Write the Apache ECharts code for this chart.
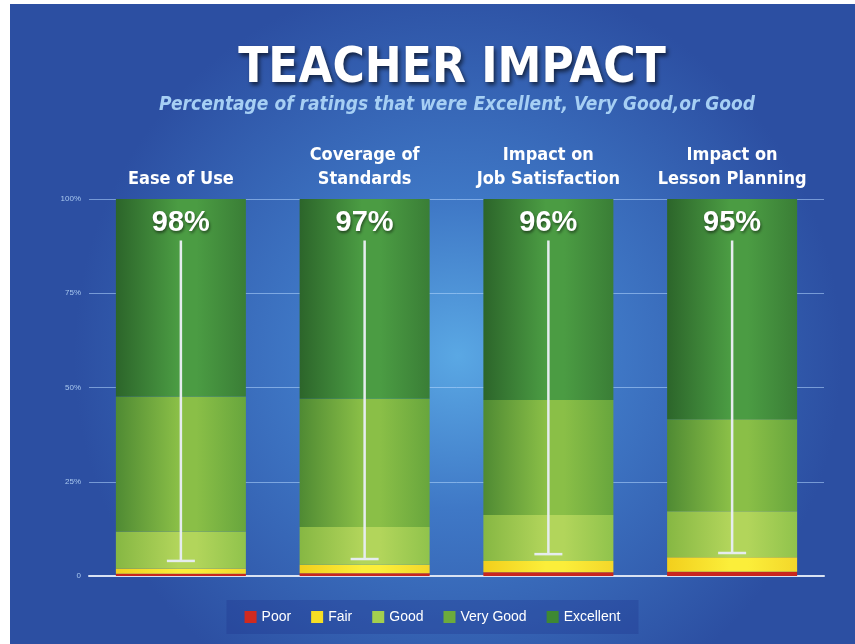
<html>
<meta charset="utf-8">
<head>
<style>
  body { margin: 0; background: #ffffff; }
  #main { position: absolute; left: 10px; top: 4px; width: 845px; height: 640px; }
</style>
</head>
<body>
    <div id="main"></div>
</body>
</html>
<script type="text/javascript" src="https://cdn.jsdelivr.net/npm/echarts@6/dist/echarts.min.js"></script>
<script type="text/javascript">

var categories = ['Ease of Use', 'Coverage of\nStandards', 'Impact on\nJob Satisfaction', 'Impact on\nLesson Planning'];
var poor      = [0.6, 0.7, 1.0, 1.1];
var fair      = [1.4, 2.3, 3.0, 3.9];
var good      = [9.8, 10.0, 12.2, 12.2];
var veryGood  = [35.8, 34.0, 30.5, 24.4];
var excellent = [52.4, 53.0, 53.3, 58.4];
var totals    = ['98%', '97%', '96%', '95%'];
var whiskerHigh = [89, 89, 89, 89];
var whiskerLow  = [4.0, 4.5, 5.8, 6.1];
var yTicks = ['0', '25%', '50%', '75%', '100%'];

var condensed = '"Liberation Sans Narrow", "DejaVu Sans Condensed", sans-serif';

function barFill(left, mid, right) {
    return {
        type: 'linear', x: 0, y: 0, x2: 1, y2: 0,
        colorStops: [
            { offset: 0, color: left },
            { offset: 0.48, color: mid },
            { offset: 0.62, color: mid },
            { offset: 1, color: right }
        ]
    };
}

var myChart = echarts.init(document.getElementById('main'));

var barBase = { type: 'bar', stack: 'r', barWidth: 130, xAxisIndex: 0 };

var option = {
    backgroundColor: {
        type: 'radial', x: 0.53, y: 0.55, r: 0.6,
        colorStops: [
            { offset: 0, color: '#5aa8e4' },
            { offset: 0.4, color: '#3f78c6' },
            { offset: 1, color: '#2c4fa2' }
        ]
    },
    title: [{
        text: 'TEACHER IMPACT',
        left: 437, top: 36, textAlign: 'center',
        textStyle: {
            color: '#ffffff', fontSize: 49, fontWeight: 'bold',
            fontFamily: condensed,
            textShadowColor: 'rgba(0,0,0,0.6)', textShadowBlur: 4, textShadowOffsetX: 2, textShadowOffsetY: 3
        }
    }, {
        text: 'Percentage of ratings that were Excellent, Very Good,or Good',
        left: 442, top: 87, textAlign: 'center',
        textStyle: {
            color: '#a6cff4', fontSize: 19, fontWeight: 'bold', fontStyle: 'italic',
            fontFamily: condensed
        }
    }],
    legend: {
        bottom: 10, left: 'center',
        data: [
            { name: 'Poor', itemStyle: { color: '#d02a1f' } },
            { name: 'Fair', itemStyle: { color: '#f6df24' } },
            { name: 'Good', itemStyle: { color: '#a3cf4e' } },
            { name: 'Very Good', itemStyle: { color: '#6cab3c' } },
            { name: 'Excellent', itemStyle: { color: '#3e8833' } }
        ],
        icon: 'rect', itemWidth: 12, itemHeight: 12, itemGap: 20,
        padding: [10, 18],
        backgroundColor: 'rgba(30,50,140,0.3)',
        textStyle: { color: '#ffffff', fontSize: 14, fontFamily: '"Liberation Sans", sans-serif' }
    },
    grid: { left: 79, right: 31, top: 195, bottom: 68 },
    xAxis: [{
        type: 'category', position: 'top', data: categories,
        axisLine: { show: false }, axisTick: { show: false },
        axisLabel: {
            interval: 0,
            color: '#ffffff', fontSize: 18, fontWeight: 'bold', lineHeight: 24, margin: 8,
            fontFamily: condensed
        }
    }, {
        type: 'category', position: 'bottom', data: categories,
        axisLine: { show: true, lineStyle: { color: '#d9e2f2', width: 2 } },
        axisTick: { show: false }, axisLabel: { show: false }
    }],
    yAxis: {
        type: 'value', min: 0, max: 100, interval: 25,
        axisLine: { show: false }, axisTick: { show: false },
        axisLabel: {
            color: '#a9c8ef', fontSize: 8, margin: 8,
            formatter: function (v) { return yTicks[v / 25]; }
        },
        splitLine: { lineStyle: { color: 'rgba(180,215,255,0.55)', width: 1 } }
    },
    series: [
        Object.assign({ name: 'Poor', data: poor, itemStyle: { color: '#c9261d' } }, barBase),
        Object.assign({ name: 'Fair', data: fair, itemStyle: { color: barFill('#f2cf1c', '#fbee3a', '#f3d72a') } }, barBase),
        Object.assign({ name: 'Good', data: good, itemStyle: { color: barFill('#86b743', '#b2d55b', '#90c34c') } }, barBase),
        Object.assign({ name: 'Very Good', data: veryGood, itemStyle: { color: barFill('#4f8a33', '#8abf47', '#68a63d') } }, barBase),
        Object.assign({
            name: 'Excellent', data: excellent,
            itemStyle: { color: barFill('#2c652a', '#4b9c43', '#3a7e36') },
            label: {
                show: true, position: 'insideTop', distance: 9,
                formatter: function (p) { return totals[p.dataIndex]; },
                color: '#ffffff', fontSize: 29, fontWeight: 'bold',
                fontFamily: '"Liberation Sans", sans-serif',
                textShadowColor: 'rgba(0,0,0,0.5)', textShadowBlur: 3, textShadowOffsetX: 1, textShadowOffsetY: 2
            }
        }, barBase),
        {
            type: 'custom', name: 'whisker', z: 5,
            data: whiskerHigh.map(function (h, i) { return [i, h, whiskerLow[i]]; }),
            renderItem: function (params, api) {
                var top = api.coord([api.value(0), api.value(1)]);
                var bot = api.coord([api.value(0), api.value(2)]);
                var style = { stroke: '#e6ecef', lineWidth: 2.5 };
                return {
                    type: 'group',
                    children: [
                        { type: 'line', shape: { x1: top[0], y1: top[1], x2: bot[0], y2: bot[1] }, style: style },
                        { type: 'line', shape: { x1: bot[0] - 14, y1: bot[1], x2: bot[0] + 14, y2: bot[1] }, style: style }
                    ]
                };
            }
        }
    ]
};
myChart.setOption(option);
</script>
